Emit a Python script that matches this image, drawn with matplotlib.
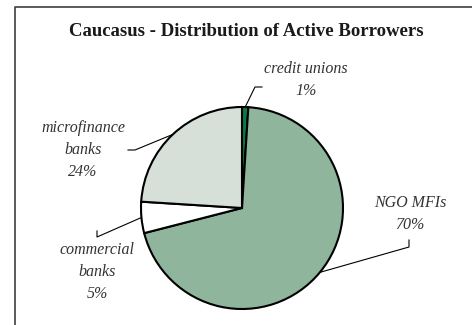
import numpy as np
import matplotlib.pyplot as plt
from matplotlib.lines import Line2D

# borrower shares by institution type, clockwise from 12 o'clock
categories = ['credit unions', 'NGO MFIs', 'commercial\nbanks', 'microfinance\nbanks']
shares = [1, 70, 5, 24]
colors = ['#0b7a4a', '#8fb59c', '#ffffff', '#d6e0d8']

W, H = 472, 325
fig = plt.figure(figsize=(W / 100, H / 100), dpi=100)
ax = fig.add_axes([0, 0, 1, 1])

cx, cy, r = 242, H - 208, 101
wedges, _ = ax.pie(shares, colors=colors, startangle=90, counterclock=False,
                   center=(cx, cy), radius=r, frame=True,
                   wedgeprops=dict(edgecolor='black', linewidth=1.5))
ax.set_xlim(0, W)
ax.set_ylim(0, H)
ax.axis('off')

# chart frame (top and left edges only)
fig.add_artist(Line2D([15 / W, 15 / W, 1], [0, 1 - 7 / H, 1 - 7 / H],
                      color='#404040', lw=1.2, transform=fig.transFigure))

fig.text(246 / W, 1 - 32 / H, 'Caucasus - Distribution of Active Borrowers',
         ha='center', va='center', fontsize=13.5, fontweight='bold',
         family='Liberation Serif', color='#1a1a1a')

# label block centre and leader elbow for each slice (pixel layout)
label_pos = [(306, 80), (410, 214), (97, 272), (83, 150)]
elbows = [[(262, 87), (255, 87)], [(409, 240), (409, 247)],
          [(97, 231), (97, 237)], [(128, 150), (135, 150)]]

for w, name, val, (tx, ty), elb in zip(wedges, categories, shares, label_pos, elbows):
    ang = np.deg2rad((w.theta1 + w.theta2) / 2)
    ex, ey = cx + r * np.cos(ang), cy + r * np.sin(ang)
    xs = [p[0] for p in elb] + [ex]
    ys = [H - p[1] for p in elb] + [ey]
    ax.plot(xs, ys, color='black', lw=0.8)
    ax.text(tx, H - ty, f'{name}\n{val}%', ha='center', va='center',
            fontsize=11.5, style='italic', family='Liberation Serif',
            color='#333333', linespacing=1.5)

fig.savefig('out.png', dpi=100)
